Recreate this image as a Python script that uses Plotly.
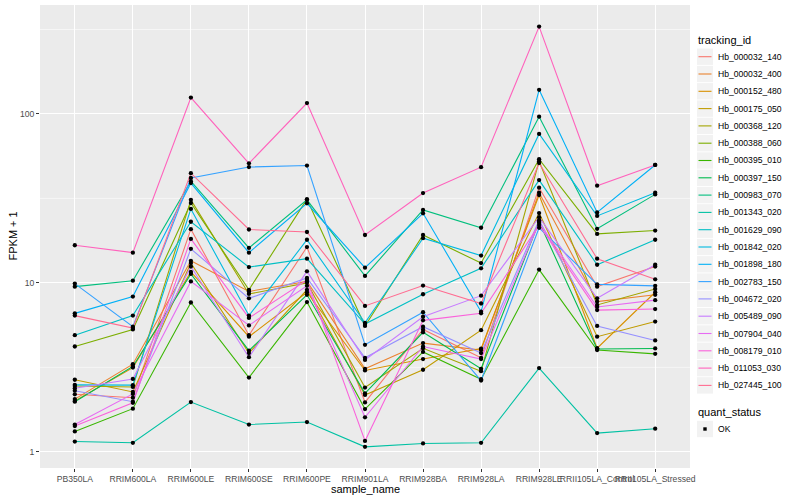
import plotly.graph_objects as go

samples = ["PB350LA", "RRIM600LA", "RRIM600LE", "RRIM600SE", "RRIM600PE", "RRIM901LA",
           "RRIM928BA", "RRIM928LA", "RRIM928LE", "RRII105LA_Control", "RRII105LA_Stressed"]

tracking_ids = ["Hb_000032_140", "Hb_000032_400", "Hb_000152_480", "Hb_000175_050",
                "Hb_000368_120", "Hb_000388_060", "Hb_000395_010", "Hb_000397_150",
                "Hb_000983_070", "Hb_001343_020", "Hb_001629_090", "Hb_001842_020",
                "Hb_001898_180", "Hb_002783_150", "Hb_004672_020", "Hb_005489_090",
                "Hb_007904_040", "Hb_008179_010", "Hb_011053_030", "Hb_027445_100"]

hb_000032_140 = [2.19, 2.09, 20.8, 4.9, 16.3, 1.96, 5.3, 3.6, 36.6, 9.5, 12.5]
hb_000032_400 = [2.05, 3.3, 13.5, 8.9, 10.2, 3.1, 4.4, 4.0, 34.2, 7.75, 8.5]
hb_000152_480 = [2.0, 3.15, 11.6, 4.8, 8.8, 3.03, 3.54, 4.08, 33.1, 4.1, 8.8]
hb_000175_050 = [2.67, 2.26, 13.1, 3.84, 9.1, 2.17, 3.06, 5.25, 25.9, 4.8, 5.9]
hb_000368_120 = [2.45, 2.42, 31.0, 8.6, 10.0, 2.4, 4.1, 3.0, 52.5, 7.4, 9.2]
hb_000388_060 = [4.2, 5.3, 29.7, 9.1, 31.3, 5.56, 19.2, 13.1, 54.0, 19.5, 20.4]
hb_000395_010 = [1.32, 1.80, 7.65, 2.75, 7.7, 1.79, 3.9, 2.69, 11.98, 4.0, 3.8]
hb_000397_150 = [1.98, 3.2, 11.3, 3.97, 8.5, 2.22, 5.1, 3.1, 23.0, 4.06, 4.09]
hb_000983_070 = [9.5, 10.3, 40.0, 16.1, 31.0, 11.0, 27.0, 21.2, 96.4, 20.9, 33.4]
hb_001343_020 = [1.15, 1.13, 1.97, 1.45, 1.5, 1.07, 1.12, 1.13, 3.13, 1.29, 1.37]
hb_001629_090 = [4.9, 6.4, 23.0, 12.4, 13.9, 5.7, 8.56, 12.2, 40.6, 12.8, 18.0]
hb_001842_020 = [2.49, 2.48, 27.4, 6.4, 18.0, 5.8, 18.4, 14.5, 76.2, 24.9, 34.2]
hb_001898_180 = [6.6, 8.3, 39.0, 15.1, 29.6, 12.3, 25.8, 6.75, 139.0, 26.1, 49.9]
hb_002783_150 = [9.9, 5.5, 41.8, 48.5, 49.5, 4.3, 6.7, 2.64, 21.2, 9.8, 9.6]
hb_004672_020 = [2.30, 1.98, 15.9, 8.1, 10.7, 3.6, 5.5, 3.84, 23.5, 5.56, 4.56]
hb_005489_090 = [2.38, 2.7, 12.5, 3.63, 11.7, 3.5, 6.3, 8.4, 24.5, 8.1, 12.8]
hb_007904_040 = [1.45, 2.2, 10.2, 5.6, 9.6, 1.6, 4.2, 3.54, 22.7, 7.2, 7.9]
hb_008179_010 = [1.42, 1.95, 18.2, 6.2, 10.4, 1.16, 6.0, 6.6, 22.0, 6.9, 7.0]
hb_011053_030 = [16.7, 15.1, 125.0, 51.0, 116.0, 19.2, 34.0, 48.4, 329.0, 37.6, 49.9]
hb_027445_100 = [6.4, 5.4, 44.6, 20.7, 20.0, 7.3, 9.64, 7.55, 51.2, 13.9, 10.5]

series_values = [hb_000032_140, hb_000032_400, hb_000152_480, hb_000175_050, hb_000368_120,
                 hb_000388_060, hb_000395_010, hb_000397_150, hb_000983_070, hb_001343_020,
                 hb_001629_090, hb_001842_020, hb_001898_180, hb_002783_150, hb_004672_020,
                 hb_005489_090, hb_007904_040, hb_008179_010, hb_011053_030, hb_027445_100]

colors = ["#F8766D", "#EA8331", "#D89000", "#C09B00", "#A3A500", "#7CAE00", "#39B600",
          "#00BB4E", "#00BF7D", "#00C1A3", "#00BFC4", "#00BAE0", "#00B0F6", "#35A2FF",
          "#9590FF", "#C77CFF", "#E76BF3", "#FA62DB", "#FF62BC", "#FF6C91"]

y_major = [1, 10, 100]
y_minor = [10 ** 0.5, 10 ** 1.5, 10 ** 2.5]
quant_status = "OK"

FONT = "Liberation Sans, Arial, sans-serif"
W, H = 800, 500
ML, MR, MT, MB = 40, 110, 5, 32
PW, PH = W - ML - MR, H - MT - MB


def px(x):
    return (x - ML) / PW


def py(y):
    return 1 - (y - MT) / PH


fig = go.Figure()
for tid, vals, col in zip(tracking_ids, series_values, colors):
    fig.add_trace(go.Scatter(x=samples, y=vals, mode="lines", name=tid,
                             line=dict(color=col, width=1.1), showlegend=False,
                             hoverinfo="skip"))

all_x, all_y = [], []
for vals in series_values:
    all_x += samples
    all_y += vals
fig.add_trace(go.Scatter(x=all_x, y=all_y, mode="markers", name=quant_status,
                         marker=dict(color="black", size=4.3, symbol="circle"),
                         showlegend=False))

shapes = []
for v in y_minor:
    shapes.append(dict(type="line", xref="paper", x0=0, x1=1, yref="y", y0=v, y1=v,
                       line=dict(color="white", width=0.55), layer="below"))

annotations = []
# legend (ggplot style)
annotations.append(dict(text="tracking_id", x=px(696), y=py(40.5), xref="paper", yref="paper",
                        xanchor="left", yanchor="middle", showarrow=False,
                        font=dict(family=FONT, size=11, color="black")))
for i, (tid, col) in enumerate(zip(tracking_ids, colors)):
    cy = 56.7 + i * 17.3
    shapes.append(dict(type="rect", xref="paper", yref="paper", x0=px(697), x1=px(713),
                       y0=py(cy - 8.2), y1=py(cy + 8.2), fillcolor="#F2F2F2",
                       line=dict(width=0), layer="above"))
    shapes.append(dict(type="line", xref="paper", yref="paper", x0=px(698.5), x1=px(711.5),
                       y0=py(cy), y1=py(cy), line=dict(color=col, width=1.1), layer="above"))
    annotations.append(dict(text=tid, x=px(716.5), y=py(cy), xref="paper", yref="paper",
                            xanchor="left", yanchor="middle", showarrow=False,
                            font=dict(family=FONT, size=8.6, color="black")))
annotations.append(dict(text="quant_status", x=px(696), y=py(412), xref="paper", yref="paper",
                        xanchor="left", yanchor="middle", showarrow=False,
                        font=dict(family=FONT, size=11, color="black")))
shapes.append(dict(type="rect", xref="paper", yref="paper", x0=px(697), x1=px(713),
                   y0=py(429 - 8.2), y1=py(429 + 8.2), fillcolor="#F2F2F2",
                   line=dict(width=0), layer="above"))
shapes.append(dict(type="rect", xref="paper", yref="paper", x0=px(703.3), x1=px(706.7),
                   y0=py(429 - 1.7), y1=py(429 + 1.7), fillcolor="black",
                   line=dict(width=0), layer="above"))
annotations.append(dict(text=quant_status, x=px(716.5), y=py(429), xref="paper", yref="paper",
                        xanchor="left", yanchor="middle", showarrow=False,
                        font=dict(family=FONT, size=8.6, color="black")))
# axis titles
annotations.append(dict(text="FPKM + 1", x=px(12), y=py(236.5), xref="paper", yref="paper",
                        xanchor="center", yanchor="middle", showarrow=False, textangle=-90,
                        font=dict(family=FONT, size=11, color="black")))
annotations.append(dict(text="sample_name", x=px(365), y=py(489), xref="paper", yref="paper",
                        xanchor="center", yanchor="middle", showarrow=False,
                        font=dict(family=FONT, size=11, color="black")))

fig.update_layout(
    width=W, height=H,
    margin=dict(l=ML, r=MR, t=MT, b=MB, autoexpand=False),
    paper_bgcolor="white", plot_bgcolor="#EBEBEB",
    font=dict(family=FONT, size=8.6, color="#4D4D4D"),
    shapes=shapes, annotations=annotations, showlegend=False,
    xaxis=dict(type="category", categoryorder="array", categoryarray=samples,
               range=[-0.6, len(samples) - 0.4], showgrid=True, gridcolor="white",
               gridwidth=1.1, zeroline=False, showline=False, tickangle=0,
               ticks="outside", ticklen=2.5, tickcolor="#333333", tickwidth=1,
               tickfont=dict(family=FONT, size=8.6, color="#4D4D4D"), automargin=False),
    yaxis=dict(type="log", range=[-0.096, 2.645], tickvals=y_major,
               ticktext=[str(v) for v in y_major], showgrid=True, gridcolor="white",
               gridwidth=1.1, zeroline=False, showline=False,
               ticks="outside", ticklen=3, tickcolor="#333333", tickwidth=1,
               tickfont=dict(family=FONT, size=8.6, color="#4D4D4D"), automargin=False),
)

fig.write_html("out.html", config={"displayModeBar": False},
               post_script="document.body.style.margin='0';document.body.style.overflow='hidden';")
